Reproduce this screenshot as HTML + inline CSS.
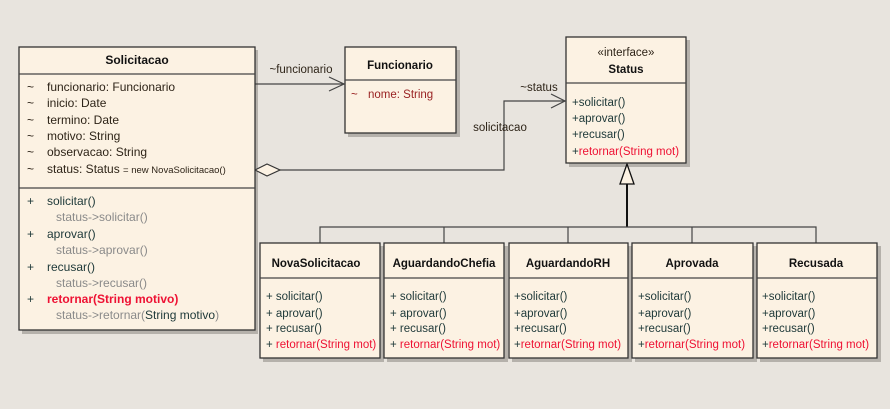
<!DOCTYPE html>
<html><head><meta charset="utf-8"><style>
html,body{margin:0;padding:0;background:#e8e4de;}
svg{display:block;}
text{font-family:"Liberation Sans",Arial,sans-serif;font-size:11.5px;}
.big text{font-size:12px;}
.b{font-weight:bold;fill:#111;}
.a{fill:#2e2418;}
.m{fill:#1d3838;}
.g{fill:#8a8a8a;}
.r{fill:#ee1133;}
.box{fill:#fcf2e3;stroke:#333;stroke-width:1.3;}
.sh{fill:#b5b1ab;}
.ln{stroke:#444;stroke-width:1.2;fill:none;}
</style></head><body>
<svg width="890" height="409" viewBox="0 0 890 409" xmlns="http://www.w3.org/2000/svg">
<rect width="890" height="409" fill="#e8e4de"/>

<rect class="sh" x="22" y="50" width="236" height="284"/>
<rect class="sh" x="348" y="50" width="112" height="87"/>
<rect class="sh" x="569" y="40" width="121" height="127"/>
<rect class="sh" x="263" y="246" width="121" height="116"/>
<rect class="sh" x="387" y="246" width="121" height="116"/>
<rect class="sh" x="512" y="246" width="120" height="116"/>
<rect class="sh" x="635" y="246" width="122" height="116"/>
<rect class="sh" x="760" y="246" width="121" height="116"/>

<line class="ln" x1="255" y1="84" x2="344" y2="84"/>
<polyline class="ln" points="329,77 344,84 329,91"/>
<polyline class="ln" points="280,170 504,170 504,101 565,101"/>
<polyline class="ln" points="551,94 565,101 551,108"/>
<polygon points="255,170 267,164 280,170 267,176" fill="#fcf2e3" stroke="#333" stroke-width="1.2"/>
<text x="301" y="73" text-anchor="middle" class="a">~funcionario</text>
<text x="539" y="91" text-anchor="middle" class="a">~status</text>
<text x="500" y="131" text-anchor="middle" class="a">solicitacao</text>

<line x1="627" y1="184" x2="627" y2="227" stroke="#111" stroke-width="2"/>
<polygon points="627,164 620,184 634,184" fill="#fcf2e3" stroke="#111" stroke-width="1.3"/>
<polyline class="ln" points="320,243 320,227 816,227 816,243"/>
<line class="ln" x1="444" y1="227" x2="444" y2="243"/>
<line class="ln" x1="568" y1="227" x2="568" y2="243"/>
<line class="ln" x1="692" y1="227" x2="692" y2="243"/>

<rect class="box" x="19" y="47" width="236" height="283"/>
<line class="ln" x1="19" y1="74" x2="255" y2="74"/>
<line class="ln" x1="19" y1="188" x2="255" y2="188"/>
<g class="big">
<text x="137" y="64" text-anchor="middle" class="b">Solicitacao</text>
<g class="a">
<text x="27" y="91">~</text><text x="47" y="91">funcionario:  Funcionario</text>
<text x="27" y="107">~</text><text x="47" y="107">inicio:  Date</text>
<text x="27" y="124">~</text><text x="47" y="124">termino:  Date</text>
<text x="27" y="140">~</text><text x="47" y="140">motivo:  String</text>
<text x="27" y="156">~</text><text x="47" y="156">observacao:  String</text>
<text x="27" y="173">~</text><text x="47" y="173">status: Status <tspan font-size="9.5">= new NovaSolicitacao()</tspan></text>
</g>
<g class="m">
<text x="27" y="205">+</text><text x="47" y="205">solicitar()</text>
<text x="27" y="238">+</text><text x="47" y="238">aprovar()</text>
<text x="27" y="271">+</text><text x="47" y="271">recusar()</text>
<text x="27" y="303">+</text>
</g>
<text x="47" y="303" class="r" font-weight="bold">retornar(String motivo)</text>
<g class="g">
<text x="56" y="221">status-&gt;solicitar()</text>
<text x="56" y="254">status-&gt;aprovar()</text>
<text x="56" y="287">status-&gt;recusar()</text>
<text x="56" y="319">status-&gt;retornar(<tspan class="m">String motivo</tspan>)</text>
</g>
</g>

<rect class="box" x="345" y="47" width="111" height="86"/>
<line class="ln" x1="345" y1="80" x2="456" y2="80"/>
<text x="400" y="69" text-anchor="middle" class="b">Funcionario</text>
<text x="351" y="98" fill="#992222">~</text><text x="368" y="98" fill="#992222">nome:  String</text>

<rect class="box" x="566" y="37" width="120" height="126"/>
<line class="ln" x1="566" y1="83" x2="686" y2="83"/>
<text x="626" y="56" text-anchor="middle" class="a">«interface»</text>
<text x="626" y="73" text-anchor="middle" class="b">Status</text>
<g class="m">
<text x="572" y="106">+solicitar()</text>
<text x="572" y="122">+aprovar()</text>
<text x="572" y="138">+recusar()</text>
<text x="572" y="155">+<tspan class="r">retornar(String mot)</tspan></text>
</g>

<g>
<rect class="box" x="260" y="243" width="120" height="115"/>
<line class="ln" x1="260" y1="278" x2="380" y2="278"/>
<text x="316" y="267" text-anchor="middle" class="b">NovaSolicitacao</text>
<g class="m"><text x="266" y="300">+  solicitar()</text><text x="266" y="317">+  aprovar()</text><text x="266" y="332">+  recusar()</text><text x="266" y="348">+ <tspan class="r">retornar(String mot)</tspan></text></g>

<rect class="box" x="384" y="243" width="120" height="115"/>
<line class="ln" x1="384" y1="278" x2="504" y2="278"/>
<text x="444" y="267" text-anchor="middle" class="b">AguardandoChefia</text>
<g class="m"><text x="390" y="300">+  solicitar()</text><text x="390" y="317">+  aprovar()</text><text x="390" y="332">+  recusar()</text><text x="390" y="348">+ <tspan class="r">retornar(String mot)</tspan></text></g>

<rect class="box" x="509" y="243" width="119" height="115"/>
<line class="ln" x1="509" y1="278" x2="628" y2="278"/>
<text x="568" y="267" text-anchor="middle" class="b">AguardandoRH</text>
<g class="m"><text x="514" y="300">+solicitar()</text><text x="514" y="317">+aprovar()</text><text x="514" y="332">+recusar()</text><text x="514" y="348">+<tspan class="r">retornar(String mot)</tspan></text></g>

<rect class="box" x="632" y="243" width="121" height="115"/>
<line class="ln" x1="632" y1="278" x2="753" y2="278"/>
<text x="692" y="267" text-anchor="middle" class="b">Aprovada</text>
<g class="m"><text x="638" y="300">+solicitar()</text><text x="638" y="317">+aprovar()</text><text x="638" y="332">+recusar()</text><text x="638" y="348">+<tspan class="r">retornar(String mot)</tspan></text></g>

<rect class="box" x="757" y="243" width="120" height="115"/>
<line class="ln" x1="757" y1="278" x2="877" y2="278"/>
<text x="816" y="267" text-anchor="middle" class="b">Recusada</text>
<g class="m"><text x="762" y="300">+solicitar()</text><text x="762" y="317">+aprovar()</text><text x="762" y="332">+recusar()</text><text x="762" y="348">+<tspan class="r">retornar(String mot)</tspan></text></g>
</g>
</svg>
</body></html>
